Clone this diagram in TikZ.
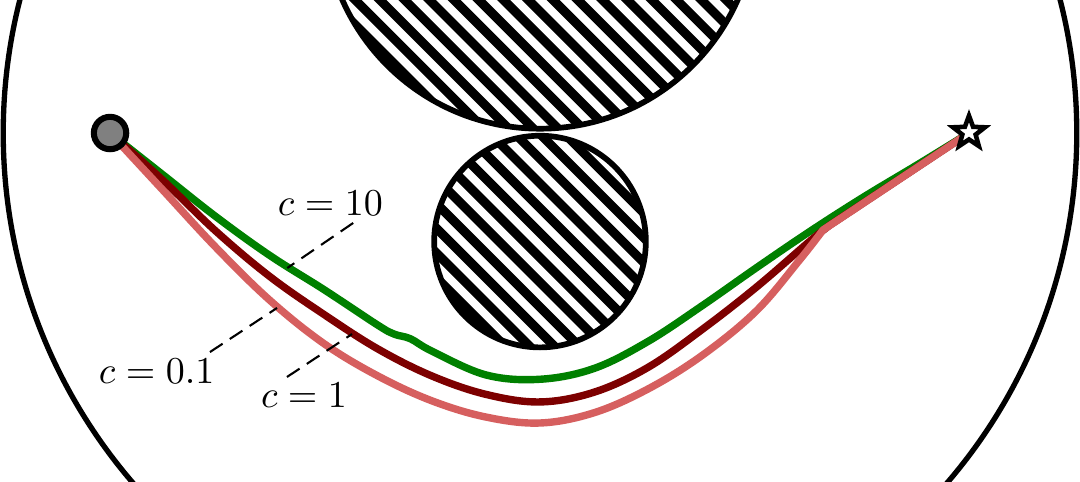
\documentclass[tikz,border=0pt]{standalone}
\usetikzlibrary{shapes.geometric}
\definecolor{lightred}{RGB}{214,95,95}
\definecolor{darkred}{RGB}{125,0,0}
\definecolor{pathgreen}{RGB}{0,128,0}
\tikzset{
  boundary/.style={line width=1.4pt},
  obstacle/.style={line width=1.5pt},
  hatchline/.style={line width=2.4pt},
  trajectory/.style={line width=1.95pt, line cap=round, line join=round},
  leader/.style={dashed, line width=0.55pt, dash pattern=on 1.4mm off 0.8mm},
  lbl/.style={font=\fontsize{9.6}{11}\selectfont, inner sep=0pt}
}
\begin{document}
\begin{tikzpicture}
\useasboundingbox (-5,-3.2222) rectangle (5,1.2315);
\clip (-5,-3.2222) rectangle (5,1.2315);
% outer boundary
\draw[boundary] (0,0) circle (4.97);
% obstacles with hatching
\begin{scope}
  \clip (0,2.04) circle (2);
  \foreach \k in {-30,...,30}
    \draw[hatchline] (\k*0.229+3, 2.04-3) -- (\k*0.229-3, 2.04+3);
\end{scope}
\draw[obstacle] (0,2.04) circle (2);
\begin{scope}
  \clip (0,-1.005) circle (0.98);
  \foreach \k in {-15,...,15}
    \draw[hatchline] (\k*0.229+0.08+1.5, -1.005-1.5) -- (\k*0.229+0.08-1.5, -1.005+1.5);
\end{scope}
\draw[obstacle] (0,-1.005) circle (0.98);
% trajectories
\draw[trajectory, pathgreen] plot[smooth, tension=0.6] coordinates {
 (-3.981,0) (-3.5,-0.38) (-3.0,-0.775) (-2.5,-1.135) (-2.0,-1.45) (-1.5,-1.78)
 (-1.35,-1.862) (-1.2,-1.905) (-1.0,-2.02) (-0.5,-2.24) (0,-2.28) (0.5,-2.18)
 (1.0,-1.93) (1.5,-1.60) (2.0,-1.25) (2.5,-0.91) (3.0,-0.59) (3.5,-0.29) (3.972,0)};
\draw[trajectory, darkred] plot[smooth, tension=0.6] coordinates {
 (-3.981,0) (-3.5,-0.43) (-3.0,-0.91) (-2.5,-1.33) (-2.0,-1.68) (-1.5,-2.0)
 (-1.0,-2.25) (-0.5,-2.42) (0,-2.49) (0.5,-2.40) (1.0,-2.17) (1.5,-1.82)
 (2.0,-1.43) (2.5,-1.0) (2.685,-0.852)}
 -- (3.972,0);
\draw[trajectory, lightred] plot[smooth, tension=0.6] coordinates {
 (-3.981,0) (-3.5,-0.52) (-3.0,-1.06) (-2.5,-1.55) (-2.0,-1.95) (-1.5,-2.25)
 (-1.0,-2.48) (-0.5,-2.63) (0,-2.685) (0.5,-2.59) (1.0,-2.37) (1.5,-2.06)
 (2.0,-1.65) (2.4,-1.18) (2.62,-0.898)}
 -- (3.972,0);
% start and goal
\node[circle, draw, line width=1.6pt, fill={rgb,255:red,128;green,128;blue,128},
      minimum size=0.3cm, inner sep=0pt] (start) at (-3.981,0) {};
\node[star, star points=5, star point ratio=2.4, draw, line width=1.2pt, fill=white,
      minimum size=0.31cm, inner sep=0pt] (goal) at (3.972,0.005) {};
% labels
\node[lbl] (lab10) at (-1.94,-0.65) {$c = 10$};
\node[lbl] (lab01) at (-3.55,-2.21) {$c = 0.1$};
\node[lbl] (lab1) at (-2.185,-2.43) {$c = 1$};
\coordinate (l10a) at (-1.73,-0.833);
\coordinate (l10b) at (-2.34,-1.25);
\coordinate (l01a) at (-3.056,-2.028);
\coordinate (l01b) at (-2.435,-1.62);
\coordinate (l1a) at (-2.343,-2.259);
\coordinate (l1b) at (-1.74,-1.861);
\draw[leader] (l10a) -- (l10b);
\draw[leader] (l01a) -- (l01b);
\draw[leader] (l1a) -- (l1b);
\end{tikzpicture}
\end{document}
